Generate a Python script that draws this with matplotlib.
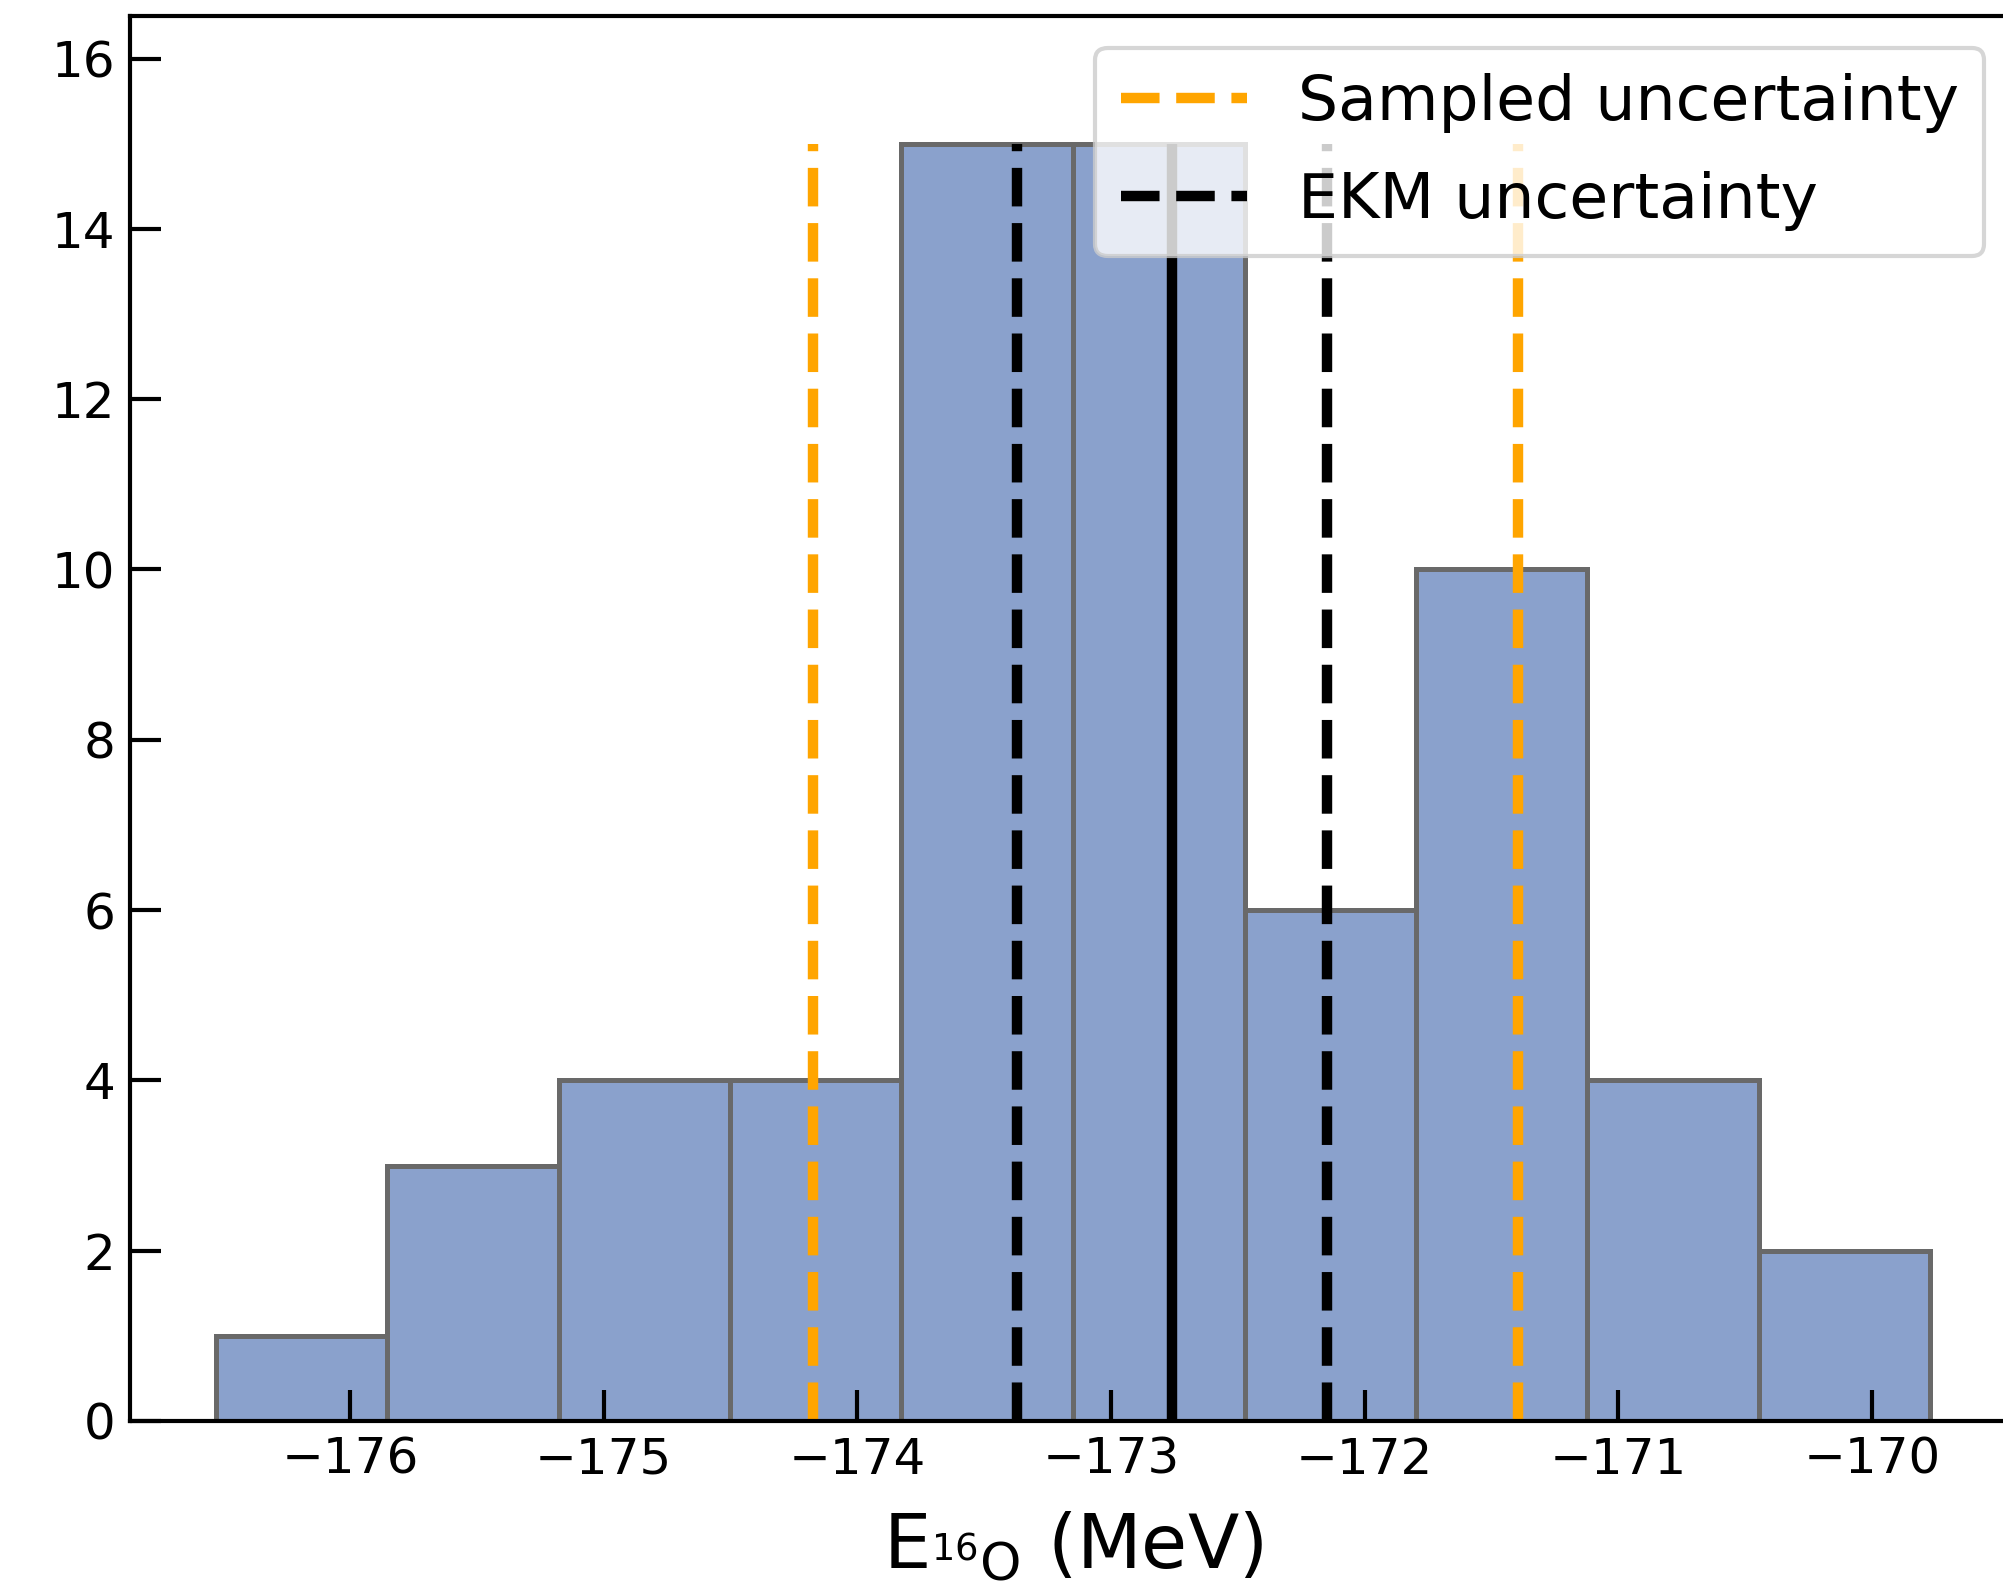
import numpy as np
import matplotlib
matplotlib.use('Agg')
import matplotlib.pyplot as plt

# histogram of sampled 16O ground-state energies
bin_edges = np.array([-176.529, -175.853, -175.177, -174.502, -173.826, -173.150,
                      -172.474, -171.798, -171.123, -170.447, -169.771])
counts = np.array([1, 3, 4, 4, 15, 15, 6, 10, 4, 2])

# vertical markers
mean_energy = -172.761
sampled_bounds = [-174.176, -171.398]
ekm_bounds = [-173.371, -172.148]
line_top = 15

fig = plt.figure(figsize=(2003 / 300, 1582 / 300), dpi=300)
ax = fig.add_axes([0.0649, 0.1018, 1.0065 - 0.0649, 0.9899 - 0.1018])

ax.bar(bin_edges[:-1], counts, width=np.diff(bin_edges), align='edge',
       color='#8aa1cc', edgecolor='dimgray', linewidth=1.2)

ax.vlines(sampled_bounds, 0, line_top, colors='orange', linestyles='--',
          linewidth=2.5, label='Sampled uncertainty')
ax.vlines(ekm_bounds, 0, line_top, colors='black', linestyles='--',
          linewidth=2.5, label='EKM uncertainty')
ax.vlines(mean_energy, 0, line_top, colors='black', linestyles='-', linewidth=2.5)

ax.set_ylim(0, 16.5)
ax.set_xticks([-176, -175, -174, -173, -172, -171, -170])
ax.set_yticks([0, 2, 4, 6, 8, 10, 12, 14, 16])
ax.tick_params(direction='in', length=7.5, width=1, labelsize=12,
               top=False, right=False)
for s in ax.spines.values():
    s.set_linewidth(1)

ax.set_xlabel(r'E$_{^{16}\mathrm{O}}$ (MeV)', fontsize=18, labelpad=6.5)
ax.legend(loc='upper right', fontsize=15.2, labelspacing=0.6)

fig.savefig('out.png', dpi=300)
